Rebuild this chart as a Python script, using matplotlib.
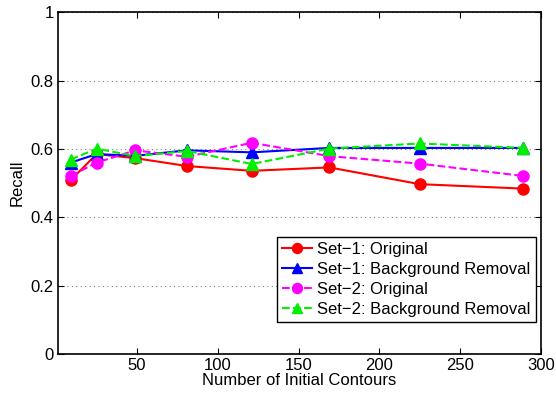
import matplotlib
matplotlib.use("Agg")
import matplotlib.pyplot as plt

plt.rcParams['font.family'] = ['Liberation Sans', 'DejaVu Sans']

contours = [9, 25, 49, 81, 121, 169, 225, 289]
set1_orig = [0.509, 0.585, 0.573, 0.550, 0.536, 0.546, 0.497, 0.484]
set1_bg = [0.560, 0.585, 0.580, 0.596, 0.590, 0.603, 0.603, 0.603]
set2_orig = [0.521, 0.560, 0.596, 0.577, 0.618, 0.579, 0.557, 0.521]
set2_bg = [0.569, 0.601, 0.579, 0.594, 0.556, 0.601, 0.616, 0.603]

labels = ["Set\u22121: Original", "Set\u22121: Background Removal",
          "Set\u22122: Original", "Set\u22122: Background Removal"]

fig = plt.figure(figsize=(5.56, 3.93), dpi=100)
ax = fig.add_axes([0.104, 0.099, 0.869, 0.870])

ax.plot(contours, set1_orig, "-o", color="red", lw=1.5, ms=8, label=labels[0])
ax.plot(contours, set1_bg, "-^", color="blue", lw=1.5, ms=8, label=labels[1])
ax.plot(contours, set2_orig, "--o", color="magenta", lw=1.5, ms=8, label=labels[2])
ax.plot(contours, set2_bg, "--^", color="#00ee00", lw=1.5, ms=8, label=labels[3])

ax.set_xlim(1, 300)
ax.set_ylim(0, 1)
ax.set_xticks([50, 100, 150, 200, 250, 300])
ax.set_yticks([0, 0.2, 0.4, 0.6, 0.8, 1])
ax.set_yticklabels(["0", "0.2", "0.4", "0.6", "0.8", "1"])
ax.yaxis.grid(True, linestyle=(0, (1, 3)), color="gray", lw=0.8)
ax.tick_params(direction="in", top=True, right=True, labelsize=12, length=4, pad=3)
for s in ax.spines.values():
    s.set_linewidth(1.2)

ax.set_xlabel("Number of Initial Contours", fontsize=12, labelpad=0)
ax.set_ylabel("Recall", fontsize=12, labelpad=4)

leg = ax.legend(loc="lower right", bbox_to_anchor=(0.996, 0.085), fontsize=12,
                fancybox=False, edgecolor="black", framealpha=1,
                handlelength=1.8, handletextpad=0.3, borderpad=0.3,
                labelspacing=0.3, borderaxespad=0.2, markerscale=0.9)
leg.get_frame().set_linewidth(1.0)

fig.savefig("out.png", dpi=100)
